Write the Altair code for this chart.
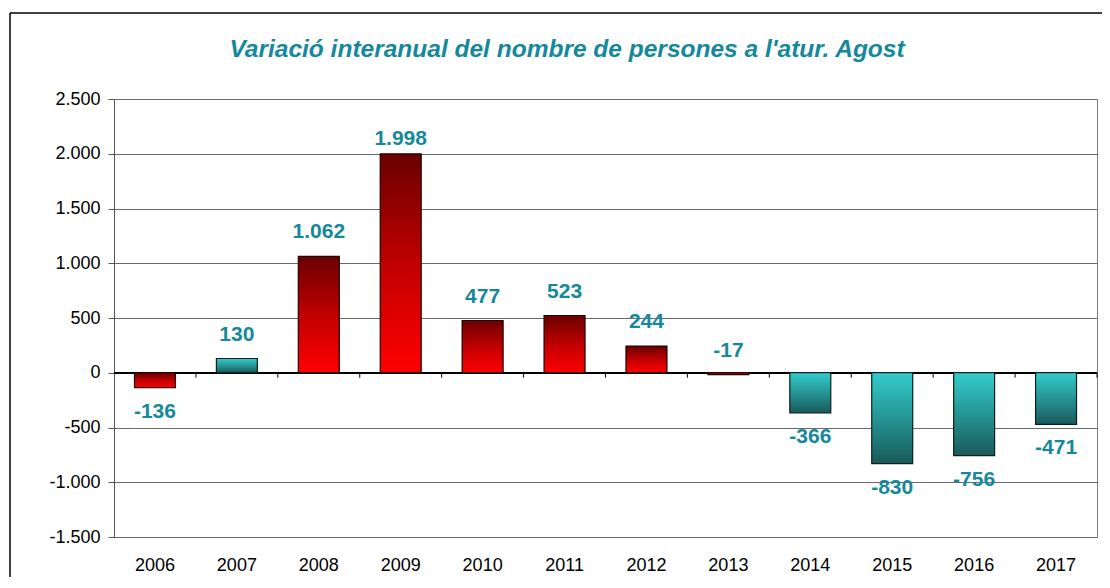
import altair as alt
import pandas as pd

years = ["2006", "2007", "2008", "2009", "2010", "2011", "2012", "2013", "2014", "2015", "2016", "2017"]
values = [-136, 130, 1062, 1998, 477, 523, 244, -17, -366, -830, -756, -471]
groups = ["vermell", "blau", "vermell", "vermell", "vermell", "vermell", "vermell", "vermell", "blau", "blau", "blau", "blau"]
y_ticks = [-1500, -1000, -500, 0, 500, 1000, 1500, 2000, 2500]
title_text = "Variació interanual del nombre de persones a l'atur. Agost"

df = pd.DataFrame({"year": years, "value": values, "group": groups})

FONT = "Liberation Sans"
TEAL = "#15899b"
fmt_axis = "(datum.value < 0 ? '-' : '') + replace(format(abs(datum.value), ','), ',', '.')"

W = 983
x_scale = alt.Scale(domain=years, paddingInner=0.5, paddingOuter=0.25)
y_scale = alt.Scale(domain=[-1500, 2500], nice=False, zero=False)

x_axis = alt.Axis(title=None, ticks=False, domain=False, grid=False, labelFont=FONT,
                  labelFontSize=18, labelColor="black", labelPadding=19, labelAngle=0)
y_axis = alt.Axis(title=None, values=y_ticks, grid=True, gridColor="#6a6a6a", gridWidth=1,
                  domain=True, domainColor="#555555", tickColor="#555555", tickSize=6,
                  labelFont=FONT, labelFontSize=18, labelColor="black", labelPadding=8,
                  labelExpr=fmt_axis)

X = alt.X("year:N", sort=years, scale=x_scale, axis=x_axis)
Y = alt.Y("value:Q", scale=y_scale, axis=y_axis)

red_grad = alt.Gradient(gradient="linear", x1=0, x2=0, y1=0, y2=1,
                        stops=[alt.GradientStop(color="#6a0000", offset=0),
                               alt.GradientStop(color="#c00000", offset=0.5),
                               alt.GradientStop(color="#ff0000", offset=1)])
teal_grad = alt.Gradient(gradient="linear", x1=0, x2=0, y1=0, y2=1,
                         stops=[alt.GradientStop(color="#33cccc", offset=0),
                                alt.GradientStop(color="#269494", offset=0.5),
                                alt.GradientStop(color="#1a5a5a", offset=1)])

base = alt.Chart(df)

bars_red = base.transform_filter("datum.group == 'vermell'").mark_bar(
    color=red_grad, stroke="#200000", strokeWidth=1.2).encode(x=X, y=Y)
bars_teal = base.transform_filter("datum.group == 'blau'").mark_bar(
    color=teal_grad, stroke="#0a2020", strokeWidth=1.2).encode(x=X, y=Y)

zero_line = base.mark_rule(color="black", strokeWidth=1).encode(y=alt.datum(0))
cat_ticks = base.mark_rule(color="black", strokeWidth=1, xOffset=W / 12 * 0.25).encode(
    x=alt.X("year:N", sort=years, scale=x_scale, axis=x_axis, bandPosition=1),
    y=alt.datum(0), y2=alt.datum(-45))

labels = base.transform_calculate(
    label="(datum.value < 0 ? '-' : '') + replace(format(abs(datum.value), ','), ',', '.')",
    ly="datum.value >= -20 ? min(datum.value + 219, 2137) : datum.value - 219",
).mark_text(font=FONT, fontSize=21, fontWeight="bold", color=TEAL, baseline="middle").encode(
    x=X, y=alt.Y("ly:Q", scale=y_scale, axis=y_axis), text="label:N")

frame_data = alt.Data(values=[{"k": 1}])
frame_left = alt.Chart(frame_data).mark_rule(color="black", strokeWidth=1.5).encode(
    x=alt.value(-104), y=alt.value(-86), y2=alt.value(480))
frame_top = alt.Chart(frame_data).mark_rule(color="black", strokeWidth=1.5).encode(
    x=alt.value(-104), x2=alt.value(990), y=alt.value(-86))
title = alt.Chart(alt.Data(values=[{"t": title_text}])).mark_text(
    font=FONT, fontSize=24.5, fontStyle="italic", fontWeight="bold", color=TEAL,
    align="center", baseline="middle").encode(
    text="t:N", x=alt.value(453), y=alt.value(-49))

chart = alt.layer(
    zero_line, bars_red, bars_teal, cat_ticks, labels, frame_left, frame_top, title
).properties(
    width=W, height=438,
    autosize=alt.AutoSizeParams(type="none"),
    padding={"left": 106, "top": 91, "right": 5, "bottom": 40},
).configure_view(stroke="#808080", strokeWidth=1)

chart.save("out.html", embed_options={"renderer": "svg", "actions": False})
